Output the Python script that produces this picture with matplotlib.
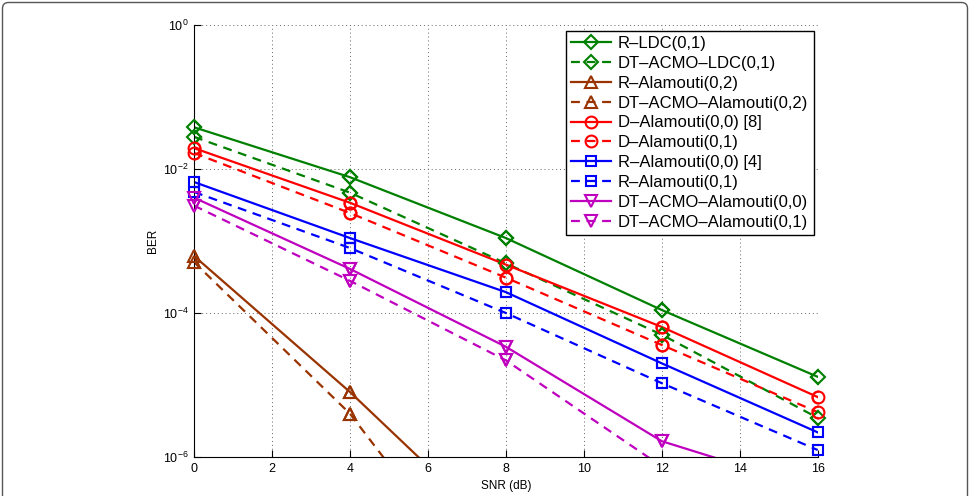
import numpy as np
import matplotlib
matplotlib.use("Agg")
import matplotlib.pyplot as plt
from matplotlib.patches import FancyBboxPatch
from matplotlib.transforms import IdentityTransform

plt.rcParams['font.family'] = ['Liberation Sans', 'DejaVu Sans']
plt.rcParams['mathtext.fontset'] = 'custom'
plt.rcParams['mathtext.rm'] = 'Liberation Sans'
plt.rcParams['mathtext.it'] = 'Liberation Sans'

snr = [0, 4, 8, 12, 16]
snr_short = [0, 4, 8]

r_ldc_01 = [3.8e-2, 7.7e-3, 1.1e-3, 1.1e-4, 1.3e-5]
dt_ldc_01 = [2.8e-2, 4.7e-3, 4.9e-4, 5.0e-5, 3.5e-6]
r_ala_02 = [6.2e-4, 8.0e-6, 7.0e-8]
dt_ala_02 = [5.1e-4, 4.0e-6, 6.0e-9]
d_ala_00 = [1.95e-2, 3.4e-3, 4.7e-4, 6.4e-5, 6.8e-6]
d_ala_01 = [1.67e-2, 2.45e-3, 3.1e-4, 3.6e-5, 4.2e-6]
r_ala_00 = [6.6e-3, 1.1e-3, 1.95e-4, 2.0e-5, 2.2e-6]
r_ala_01 = [4.8e-3, 8.0e-4, 1.0e-4, 1.06e-5, 1.25e-6]
dt_ala_00 = [4.0e-3, 4.1e-4, 3.4e-5, 1.66e-6, 3.5e-7]
dt_ala_01 = [3.1e-3, 2.8e-4, 2.2e-5, 7.4e-7, 1.0e-7]

labels = ['R–LDC(0,1)', 'DT–ACMO–LDC(0,1)', 'R–Alamouti(0,2)',
          'DT–ACMO–Alamouti(0,2)', 'D–Alamouti(0,0) [8]', 'D–Alamouti(0,1)',
          'R–Alamouti(0,0) [4]', 'R–Alamouti(0,1)', 'DT–ACMO–Alamouti(0,0)',
          'DT–ACMO–Alamouti(0,1)']

green = '#008000'
brown = '#993300'
red = '#ff0000'
blue = '#0000ff'
magenta = '#bf00bf'

dash = (0, (4, 3))
series = [
    (snr, r_ldc_01, green, '-', 'D', 7.5),
    (snr, dt_ldc_01, green, dash, 'D', 7.5),
    (snr_short, r_ala_02, brown, '-', '^', 8.5),
    (snr_short, dt_ala_02, brown, dash, '^', 8.5),
    (snr, d_ala_00, red, '-', 'o', 8.5),
    (snr, d_ala_01, red, dash, 'o', 8.5),
    (snr, r_ala_00, blue, '-', 's', 7),
    (snr, r_ala_01, blue, dash, 's', 7),
    (snr, dt_ala_00, magenta, '-', 'v', 8.5),
    (snr, dt_ala_01, magenta, dash, 'v', 8.5),
]

fig = plt.figure(figsize=(9.7, 4.96), dpi=100)
ax = fig.add_axes([0.2, 0.0786, 0.643, 0.871])

ymin, ymax = 1e-6, 1e0
handles = []
for (xs, ys, c, ls, m, ms), lab in zip(series, labels):
    h, = ax.plot(xs, ys, color=c, linestyle=ls, linewidth=1.6, marker=m,
                 markersize=ms, markerfacecolor='none', markeredgecolor=c,
                 markeredgewidth=1.5, label=lab)
    handles.append(h)
    xa = np.array(xs, dtype=float)
    ya = np.array(ys, dtype=float)
    mask = (ya >= ymin) & (ya <= ymax)
    ax.plot(xa[mask], ya[mask], linestyle='none', marker=m, markersize=ms,
            markerfacecolor='none', markeredgecolor=c, markeredgewidth=1.5,
            clip_on=False, zorder=3)

ax.set_yscale('log')
ax.set_xlim(0, 16)
ax.set_ylim(ymin, ymax)
ax.set_xticks(range(0, 17, 2))
ax.set_yticks([1e-6, 1e-4, 1e-2, 1e0])
ax.set_yticklabels([r'$10^{-6}$', r'$10^{-4}$', r'$10^{-2}$', r'$10^{0}$'])
ax.minorticks_off()
ax.tick_params(direction='in', length=5, width=0.8, labelsize=9, pad=4,
               top=False, right=False)
ax.grid(True, which='major', color='#666666', linestyle=(0, (1, 3)), linewidth=0.7)
ax.spines['top'].set_visible(False)
ax.spines['right'].set_visible(False)
ax.set_xlabel('SNR (dB)', fontsize=8.5, labelpad=4)
ax.set_ylabel('BER', fontsize=8.5, labelpad=3)

leg = ax.legend(handles=handles, loc='upper right', bbox_to_anchor=(0.994, 0.987),
                borderaxespad=0, fontsize=12, handlelength=2.4, handletextpad=0.4,
                labelspacing=0.29, borderpad=0.33, fancybox=False, framealpha=1,
                edgecolor='black')
leg.get_frame().set_linewidth(1.0)

border = FancyBboxPatch((2.5, -20), 965, 496 - 2.5 + 20,
                        boxstyle="round,pad=0,rounding_size=6",
                        transform=IdentityTransform(), facecolor='none',
                        edgecolor='#555555', linewidth=1.0)
fig.add_artist(border)

fig.savefig('out.png', dpi=100)
